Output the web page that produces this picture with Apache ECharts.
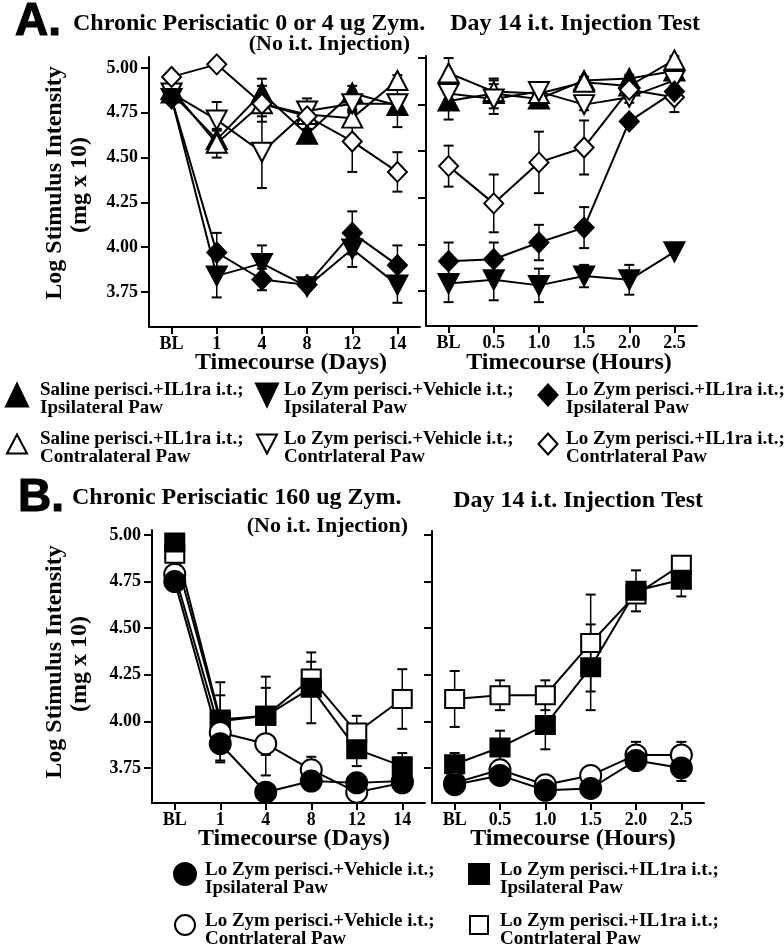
<!DOCTYPE html>
<html><head><meta charset="utf-8">
<script src="https://cdn.jsdelivr.net/npm/echarts@6/dist/echarts.min.js"></script>
<style>html,body{margin:0;padding:0;background:#fff}#c{width:784px;height:948px}</style>
</head><body><div id="c"></div><script>
// ---------- categories & ticks ----------
const daysCats = ['BL', '1', '4', '8', '12', '14'];
const hoursCats = ['BL', '0.5', '1.0', '1.5', '2.0', '2.5'];
const yTicks = [3.75, 4.00, 4.25, 4.50, 4.75, 5.00];

// ---------- Panel A, days (Chronic Perisciatic 0 or 4 ug Zym.) ----------
const aDaysSalIpsi       = [4.86, 4.60, 4.86, 4.63, 4.86, 4.79];
const aDaysSalIpsiErr    = [0, 0.05, 0.08, 0.03, 0.04, 0.12];
const aDaysSalContra     = [4.88, 4.58, 4.80, 4.74, 4.72, 4.93];
const aDaysSalContraErr  = [0, 0.08, 0, 0.05, 0.05, 0.03];
const aDaysVehIpsi       = [4.83, 3.84, 3.91, 3.78, 3.99, 3.79];
const aDaysVehIpsiErr    = [0, 0.12, 0.10, 0.02, 0.10, 0.10];
const aDaysVehContra     = [4.86, 4.71, 4.53, 4.76, 4.80, 4.80];
const aDaysVehContraErr  = [0, 0.10, 0.20, 0.07, 0.05, 0.05];
const aDaysIlIpsi        = [4.83, 3.97, 3.82, 3.79, 4.08, 3.90];
const aDaysIlIpsiErr     = [0, 0.11, 0.06, 0.02, 0.12, 0.11];
const aDaysIlContra      = [4.95, 5.02, 4.80, 4.73, 4.59, 4.42];
const aDaysIlContraErr   = [0, 0, 0.10, 0.03, 0.17, 0.11];

// ---------- Panel A, hours (Day 14 i.t. Injection Test) ----------
const aHrsSalIpsi        = [4.77, 4.81, 4.78, 4.88, 4.89, 4.93];
const aHrsSalIpsiErr     = [0.10, 0.08, 0.03, 0.02, 0.02, 0.03];
const aHrsSalContra      = [4.92, 4.82, 4.81, 4.87, 4.85, 4.99];
const aHrsSalContraErr   = [0.08, 0.06, 0.03, 0.02, 0.03, 0.02];
const aHrsVehIpsi        = [3.79, 3.81, 3.78, 3.83, 3.81, 3.96];
const aHrsVehIpsiErr     = [0.10, 0.11, 0.09, 0.06, 0.08, 0];
const aHrsVehContra      = [4.81, 4.78, 4.82, 4.75, 4.79, 4.88];
const aHrsVehContraErr   = [0.03, 0.08, 0.02, 0.03, 0.03, 0.03];
const aHrsIlIpsi         = [3.91, 3.92, 4.01, 4.09, 4.66, 4.82];
const aHrsIlIpsiErr      = [0.10, 0.09, 0.095, 0.11, 0.03, 0.03];
const aHrsIlContra       = [4.42, 4.22, 4.44, 4.52, 4.83, 4.79];
const aHrsIlContraErr    = [0.11, 0.155, 0.165, 0.145, 0.03, 0.08];

// ---------- Panel B, days (Chronic Perisciatic 160 ug Zym.) ----------
const bDaysVehIpsi       = [4.75, 3.88, 3.62, 3.68, 3.67, 3.68];
const bDaysVehIpsiErr    = [0, 0.10, 0, 0.02, 0.02, 0.02];
const bDaysVehContra     = [4.79, 3.94, 3.88, 3.74, 3.62, 3.67];
const bDaysVehContraErr  = [0, 0.06, 0.17, 0.07, 0.02, 0.02];
const bDaysIlIpsi        = [4.96, 4.01, 4.03, 4.18, 3.85, 3.76];
const bDaysIlIpsiErr     = [0, 0.13, 0.15, 0.19, 0.09, 0.07];
const bDaysIlContra      = [4.90, 4.00, 4.03, 4.23, 3.94, 4.12];
const bDaysIlContraErr   = [0, 0.21, 0.21, 0.09, 0.09, 0.16];

// ---------- Panel B, hours ----------
const bHrsVehIpsi        = [3.66, 3.71, 3.63, 3.64, 3.79, 3.75];
const bHrsVehIpsiErr     = [0, 0, 0, 0, 0.03, 0.07];
const bHrsVehContra      = [3.67, 3.74, 3.66, 3.71, 3.82, 3.82];
const bHrsVehContraErr   = [0, 0.02, 0.02, 0, 0.07, 0.07];
const bHrsIlIpsi         = [3.77, 3.86, 3.98, 4.29, 4.70, 4.76];
const bHrsIlIpsiErr      = [0.06, 0.09, 0.13, 0.23, 0.11, 0.09];
const bHrsIlContra       = [4.12, 4.14, 4.14, 4.42, 4.68, 4.84];
const bHrsIlContraErr    = [0.15, 0.08, 0.08, 0.26, 0.03, 0.02];

// ---------- texts ----------
const titleALeft = 'Chronic Perisciatic 0 or 4 ug Zym.';
const titleBLeft = 'Chronic Perisciatic 160 ug Zym.';
const titleSub = '(No i.t. Injection)';
const titleRight = 'Day 14 i.t. Injection Test';
const yName1 = 'Log Stimulus Intensity';
const yName2 = '(mg x 10)';
const xNameDays = 'Timecourse (Days)';
const xNameHours = 'Timecourse (Hours)';
const legendA = [
  ['Saline perisci.+IL1ra i.t.;', 'Ipsilateral Paw'],
  ['Lo Zym perisci.+Vehicle i.t.;', 'Ipsilateral Paw'],
  ['Lo Zym perisci.+IL1ra i.t.;', 'Ipsilateral Paw'],
  ['Saline perisci.+IL1ra i.t.;', 'Contralateral Paw'],
  ['Lo Zym perisci.+Vehicle i.t.;', 'Contrlateral Paw'],
  ['Lo Zym perisci.+IL1ra i.t.;', 'Contrlateral Paw']
];
const legendB = [
  ['Lo Zym perisci.+Vehicle i.t.;', 'Ipsilateral Paw'],
  ['Lo Zym perisci.+IL1ra i.t.;', 'Ipsilateral Paw'],
  ['Lo Zym perisci.+Vehicle i.t.;', 'Contrlateral Paw'],
  ['Lo Zym perisci.+IL1ra i.t.;', 'Contrlateral Paw']
];

// ---------- build ----------
const SERIF = '"Liberation Serif", "Times New Roman", serif';
const SANS = '"Liberation Sans", Arial, sans-serif';

const panels = [
  {grid: {left: 149, top: 57, width: 271, height: 270}, cats: daysCats, min: 3.555, max: 5.061, labels: true},
  {grid: {left: 426, top: 56, width: 271, height: 270}, cats: hoursCats, min: 3.562, max: 5.011, labels: false},
  {grid: {left: 152, top: 530, width: 273, height: 273}, cats: daysCats, min: 3.562, max: 5.027, labels: true},
  {grid: {left: 432, top: 531, width: 272, height: 272}, cats: hoursCats, min: 3.562, max: 5.021, labels: false}
];

const shapes = {
  up:      {symbol: 'triangle', symbolSize: [20, 19], symbolRotate: 0},
  down:    {symbol: 'triangle', symbolSize: [20, 19], symbolRotate: 180},
  diamond: {symbol: 'diamond', symbolSize: [19, 20], symbolRotate: 0},
  circle:  {symbol: 'circle', symbolSize: 21, symbolRotate: 0},
  square:  {symbol: 'rect', symbolSize: [19, 18], symbolRotate: 0}
};

function lineSeries(name, idx, data, shape, filled) {
  const s = shapes[shape];
  return {
    type: 'line', name, xAxisIndex: idx, yAxisIndex: idx, data,
    symbol: s.symbol, symbolSize: s.symbolSize, symbolRotate: s.symbolRotate,
    showAllSymbol: true, z: 3,
    lineStyle: {color: '#000', width: 2},
    itemStyle: {color: filled ? '#000' : '#fff', borderColor: '#000', borderWidth: 2, opacity: 1},
    emphasis: {disabled: true}, animation: false
  };
}

function errSeries(idx, vals, errs) {
  const data = vals.map((v, i) => [i, v, errs[i]]).filter(d => d[2] > 0);
  return {
    type: 'custom', xAxisIndex: idx, yAxisIndex: idx, z: 1, silent: true, data,
    encode: {x: 0, y: 1},
    renderItem(params, api) {
      const x = api.value(0), m = api.value(1), e = api.value(2);
      const top = api.coord([x, m + e]), bot = api.coord([x, m - e]);
      const hw = 5;
      return {type: 'group', children: [
        {type: 'line', shape: {x1: top[0], y1: top[1], x2: bot[0], y2: bot[1]}, style: {stroke: '#000', lineWidth: 1.5}},
        {type: 'line', shape: {x1: top[0] - hw, y1: top[1], x2: top[0] + hw, y2: top[1]}, style: {stroke: '#000', lineWidth: 2}},
        {type: 'line', shape: {x1: bot[0] - hw, y1: bot[1], x2: bot[0] + hw, y2: bot[1]}, style: {stroke: '#000', lineWidth: 2}}
      ]};
    }
  };
}

const defs = [
  // panel 0
  [0, 'Saline Ipsi', aDaysSalIpsi, aDaysSalIpsiErr, 'up', true],
  [0, 'Saline Contra', aDaysSalContra, aDaysSalContraErr, 'up', false],
  [0, 'Veh Contra', aDaysVehContra, aDaysVehContraErr, 'down', false],
  [0, 'IL Contra', aDaysIlContra, aDaysIlContraErr, 'diamond', false],
  [0, 'Veh Ipsi', aDaysVehIpsi, aDaysVehIpsiErr, 'down', true],
  [0, 'IL Ipsi', aDaysIlIpsi, aDaysIlIpsiErr, 'diamond', true],
  // panel 1
  [1, 'Saline Ipsi', aHrsSalIpsi, aHrsSalIpsiErr, 'up', true],
  [1, 'Saline Contra', aHrsSalContra, aHrsSalContraErr, 'up', false],
  [1, 'Veh Contra', aHrsVehContra, aHrsVehContraErr, 'down', false],
  [1, 'IL Contra', aHrsIlContra, aHrsIlContraErr, 'diamond', false],
  [1, 'Veh Ipsi', aHrsVehIpsi, aHrsVehIpsiErr, 'down', true],
  [1, 'IL Ipsi', aHrsIlIpsi, aHrsIlIpsiErr, 'diamond', true],
  // panel 2
  [2, 'B IL Contra', bDaysIlContra, bDaysIlContraErr, 'square', false],
  [2, 'B IL Ipsi', bDaysIlIpsi, bDaysIlIpsiErr, 'square', true],
  [2, 'B Veh Contra', bDaysVehContra, bDaysVehContraErr, 'circle', false],
  [2, 'B Veh Ipsi', bDaysVehIpsi, bDaysVehIpsiErr, 'circle', true],
  // panel 3
  [3, 'B IL Contra', bHrsIlContra, bHrsIlContraErr, 'square', false],
  [3, 'B IL Ipsi', bHrsIlIpsi, bHrsIlIpsiErr, 'square', true],
  [3, 'B Veh Contra', bHrsVehContra, bHrsVehContraErr, 'circle', false],
  [3, 'B Veh Ipsi', bHrsVehIpsi, bHrsVehIpsiErr, 'circle', true]
];

const series = [];
defs.forEach(d => series.push(errSeries(d[0], d[2], d[3])));
defs.forEach(d => series.push(lineSeries(d[1], d[0], d[2], d[4], d[5])));

const axisLineStyle = {color: '#000', width: 2};
const xAxis = panels.map((p, i) => ({
  type: 'category', gridIndex: i, data: p.cats, boundaryGap: true,
  axisLine: {show: true, lineStyle: axisLineStyle},
  axisTick: {show: true, alignWithLabel: true, length: 7, lineStyle: {color: '#000', width: 2}},
  axisLabel: {show: true, interval: 0, margin: 8, color: '#000', fontFamily: SERIF, fontWeight: 'bold', fontSize: 18},
  splitLine: {show: false}
}));
const yAxis = panels.map((p, i) => ({
  type: 'value', gridIndex: i, min: p.min, max: p.max,
  axisLine: {show: true, lineStyle: axisLineStyle},
  axisTick: {show: true, length: 8, customValues: yTicks, lineStyle: {color: '#000', width: 2}},
  axisLabel: {show: p.labels, customValues: yTicks, margin: 11, color: '#000',
    fontFamily: SERIF, fontWeight: 'bold', fontSize: 18, formatter: v => Number(v).toFixed(2)},
  splitLine: {show: false}
}));

// ---------- graphic texts ----------
function txt(text, x, y, size, align, family, extra) {
  return Object.assign({type: 'text', x, y, silent: true, style: {
    text, fill: '#000', font: 'bold ' + size + 'px ' + (family || SERIF),
    textAlign: align || 'left', textVerticalAlign: 'middle'
  }}, extra || {});
}
const g = [];
// panel letters
g.push(txt('A.', 15, 22, 46, 'left', SANS, {style: {text: 'A.', fill: '#000', stroke: '#000', lineWidth: 1.2, font: 'bold 46px ' + SANS, textAlign: 'left', textVerticalAlign: 'middle'}}));
g.push(txt('B.', 18, 498, 46, 'left', SANS, {style: {text: 'B.', fill: '#000', stroke: '#000', lineWidth: 1.2, font: 'bold 46px ' + SANS, textAlign: 'left', textVerticalAlign: 'middle'}}));
// titles
g.push(txt(titleALeft, 73, 24, 24, 'left'));
g.push(txt(titleSub, 410, 44, 22, 'right'));
g.push(txt(titleRight, 700, 24, 24, 'right'));
g.push(txt(titleBLeft, 72, 498, 24, 'left'));
g.push(txt(titleSub, 408, 526, 22, 'right'));
g.push(txt(titleRight, 703, 501, 24, 'right'));
// y axis names
[[183, 185], [662, 664]].forEach(([c1, c2]) => {
  g.push(txt(yName1, 55, c1, 24, 'center', SERIF, {rotation: Math.PI / 2}));
  g.push(txt(yName2, 80, c2, 24, 'center', SERIF, {rotation: Math.PI / 2}));
});
// x axis names
g.push(txt(xNameDays, 291, 363, 24, 'center'));
g.push(txt(xNameHours, 569, 363, 24, 'center'));
g.push(txt(xNameDays, 294, 839, 24, 'center'));
g.push(txt(xNameHours, 573, 839, 24, 'center'));

// legend keys
function keyTri(cx, cy, w, h, down, filled) {
  const pts = down ? [[cx - w / 2, cy - h / 2], [cx + w / 2, cy - h / 2], [cx, cy + h / 2]]
                   : [[cx - w / 2, cy + h / 2], [cx + w / 2, cy + h / 2], [cx, cy - h / 2]];
  return {type: 'polygon', silent: true, shape: {points: pts}, style: {fill: filled ? '#000' : '#fff', stroke: '#000', lineWidth: 2}};
}
function keyDiamond(cx, cy, w, h, filled) {
  return {type: 'polygon', silent: true, shape: {points: [[cx, cy - h / 2], [cx + w / 2, cy], [cx, cy + h / 2], [cx - w / 2, cy]]},
    style: {fill: filled ? '#000' : '#fff', stroke: '#000', lineWidth: 2}};
}
function keyCircle(cx, cy, r, filled) {
  return {type: 'circle', silent: true, shape: {cx, cy, r}, style: {fill: filled ? '#000' : '#fff', stroke: '#000', lineWidth: 2}};
}
function keySquare(cx, cy, s, filled) {
  return {type: 'rect', silent: true, shape: {x: cx - s / 2, y: cy - s / 2, width: s, height: s}, style: {fill: filled ? '#000' : '#fff', stroke: '#000', lineWidth: 2}};
}
const LFS = 19;
// Legend A
const aColSym = [17, 267, 548], aColTxt = [40, 284, 566];
const aRowY = [390, 439];
legendA.forEach((lbl, i) => {
  const col = i % 3, row = Math.floor(i / 3);
  const y1 = aRowY[row];
  g.push(txt(lbl[0], aColTxt[col], y1, LFS, 'left'));
  g.push(txt(lbl[1], aColTxt[col], y1 + 18, LFS, 'left'));
  const cy = y1 + 5, filled = row === 0;
  if (col === 0) g.push(keyTri(aColSym[col], cy, filled ? 22 : 20, filled ? 23 : 19, false, filled));
  if (col === 1) g.push(keyTri(aColSym[col], cy, filled ? 22 : 20, filled ? 23 : 19, true, filled));
  if (col === 2) g.push(keyDiamond(aColSym[col], cy, 19, 21, filled));
});
// Legend B
const bColSym = [185, 479], bColTxt = [205, 500];
const bRowY = [870, 921];
legendB.forEach((lbl, i) => {
  const col = i % 2, row = Math.floor(i / 2);
  const y1 = bRowY[row];
  g.push(txt(lbl[0], bColTxt[col], y1, LFS, 'left'));
  g.push(txt(lbl[1], bColTxt[col], y1 + 18, LFS, 'left'));
  const cy = y1 + 4, filled = row === 0;
  if (col === 0) g.push(keyCircle(bColSym[col], cy, filled ? 11 : 10, filled));
  if (col === 1) g.push(keySquare(bColSym[col], cy, filled ? 20 : 18, filled));
});

const chart = echarts.init(document.getElementById('c'), null, {renderer: 'canvas'});
chart.setOption({
  backgroundColor: '#fff',
  animation: false,
  grid: panels.map(p => Object.assign({containLabel: false}, p.grid)),
  xAxis, yAxis, series,
  graphic: {elements: g}
});
</script></body></html>
